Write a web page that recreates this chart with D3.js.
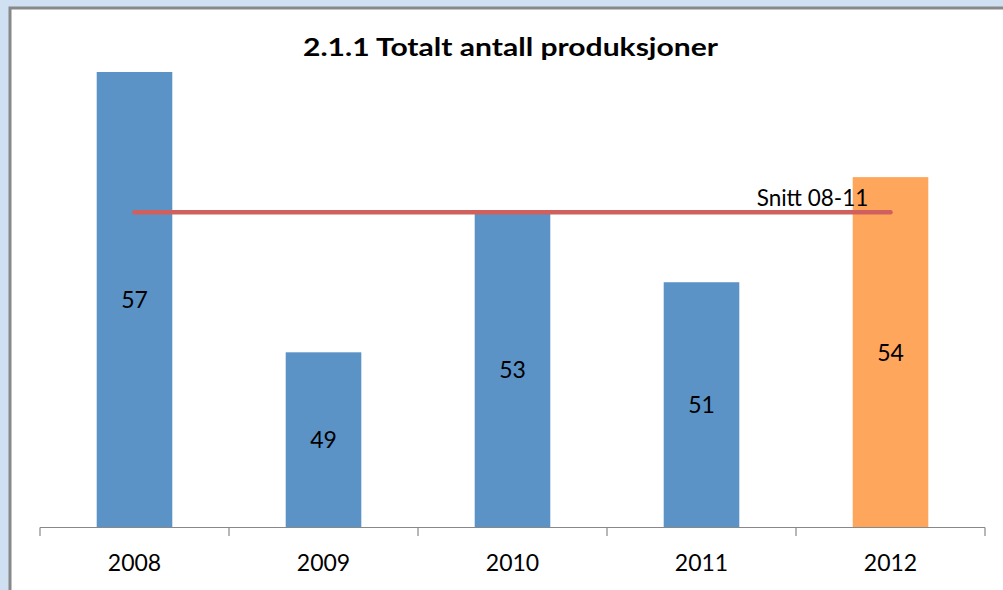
<!DOCTYPE html>
<html><head><meta charset="utf-8">
<script src="https://cdn.jsdelivr.net/npm/d3@7"></script>
<style>body{margin:0;background:#cfe0f2;}svg{display:block;}</style>
</head><body>
<svg id="c" width="1003" height="590"></svg>
<script>
const years = ["2008","2009","2010","2011","2012"];
const values = [57,49,53,51,54];
const barColors = ["#5b93c7","#5b93c7","#5b93c7","#5b93c7","#fea65c"];
const avgValue = 53;
const avgLabel = "Snitt 08-11";
const title = "2.1.1 Totalt antall produksjoner";

const svg = d3.select("#c");
const font = "Lato, 'Open Sans', sans-serif";
// panel
svg.append("rect").attr("x",9).attr("y",7).attr("width",1003).attr("height",600).attr("fill","#fff");
svg.append("path").attr("d","M10,600 V8 H1003").attr("fill","none").attr("stroke","#888").attr("stroke-width",3);

const x = d3.scaleBand().domain(years).range([40,985]).paddingInner(0.6).paddingOuter(0.3);
const y = d3.scaleLinear().domain([44,57]).range([527.5,72]);

const g = svg.append("g");
g.selectAll("rect.bar").data(values).join("rect").attr("class","bar")
  .attr("x",(d,i)=>x(years[i])).attr("width",x.bandwidth())
  .attr("y",d=>y(d)).attr("height",d=>y.range()[0]-y(d))
  .attr("fill",(d,i)=>barColors[i]);

g.selectAll("text.val").data(values).join("text").attr("class","val")
  .attr("x",(d,i)=>x(years[i])+x.bandwidth()/2)
  .attr("y",d=>(y(d)+y.range()[0])/2)
  .attr("dy","0.36em").attr("text-anchor","middle")
  .attr("font-family",font).attr("font-size",23).attr("fill","#000")
  .text(d=>d);

// axis
const ax = svg.append("g").attr("transform","translate(0,527.5)")
  .call(d3.axisBottom(x).tickSize(0).tickPadding(27));
ax.select(".domain").remove();
ax.selectAll("text").attr("font-family",font).attr("font-size",23).attr("fill","#000");
svg.append("line").attr("x1",40).attr("x2",985).attr("y1",527.5).attr("y2",527.5).attr("stroke","#888").attr("stroke-width",1.2);
const step = x.step();
const edges = d3.range(years.length+1).map(i=>40+i*step);
svg.selectAll("line.tk").data(edges).join("line").attr("class","tk")
  .attr("x1",d=>d).attr("x2",d=>d).attr("y1",527.5).attr("y2",536)
  .attr("stroke","#888").attr("stroke-width",1.2);

// average line
const cx0 = x(years[0])+x.bandwidth()/2, cx1 = x(years[years.length-1])+x.bandwidth()/2;
svg.append("line").attr("x1",cx0).attr("x2",cx1).attr("y1",y(avgValue)).attr("y2",y(avgValue))
  .attr("stroke","#d0605e").attr("stroke-width",4.5).attr("stroke-linecap","round");
svg.append("text").attr("x",812.5).attr("y",y(avgValue)-6).attr("text-anchor","middle")
  .attr("font-family",font).attr("font-size",22.5).attr("fill","#000").text(avgLabel);

svg.append("text").attr("x",510.5).attr("y",55.5).attr("text-anchor","middle")
  .attr("font-family",font).attr("font-weight","bold").attr("font-size",25.5)
  .attr("textLength",415).attr("lengthAdjust","spacingAndGlyphs")
  .attr("fill","#000").text(title);
</script>
</body></html>
